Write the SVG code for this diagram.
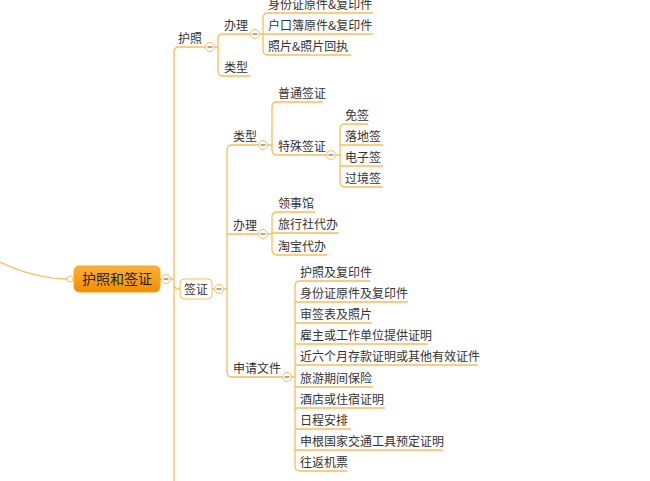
<svg xmlns="http://www.w3.org/2000/svg" width="650" height="481" viewBox="0 0 650 481">
<defs>
<linearGradient id="g" x1="0" y1="0" x2="0" y2="1"><stop offset="0" stop-color="#fbb13c"/><stop offset="1" stop-color="#f28c00"/></linearGradient>
<g id="m"><circle r="4.5" fill="#fff" stroke="#f8bd5c"/><line x1="-2.5" x2="2.5" stroke="#555" stroke-width="1"/></g>
</defs>
<style>
text{font-family:"Noto Sans CJK SC","Liberation Sans",sans-serif;font-size:12px;fill:#333}
.l{fill:none;stroke:#f8bd5c;stroke-width:1.3}
</style>
<rect width="650" height="481" fill="#fff"/>
<g id="connectors" class="l">
<path d="M0,262 Q35,279 70,279"/>
<path d="M160,279 H174 M174,481 V52 Q174,47 179,47 H205 M174,284 Q174,289 179,289 H180"/>
<path d="M205,47 H218 M223,34 Q218,34 218,39 V71 Q218,76 223,76 H250 M223,34 H250"/>
<path d="M250,34 H263 M268,13 Q263,13 263,18 V50 Q263,55 268,55 H351 M268,13 H373 M263,34 H373"/>
<path d="M212,289 H227 M232,145 Q227,145 227,150 V372 Q227,377 232,377 H280 M227,234 H257 M232,145 H257"/>
<path d="M257,145 H272 M277,102 Q272,102 272,107 V150 Q272,155 277,155 H323 M277,102 H323"/>
<path d="M323,155 H340 M345,124 Q340,124 340,129 V182 Q340,187 345,187 H383 M345,124 H368 M340,145 H383 M340,166 H383"/>
<path d="M257,234 H272 M277,212 Q272,212 272,217 V250 Q272,255 277,255 H327 M277,212 H315 M272,233 H339"/>
<path d="M280,377 H295 M300,281 Q295,281 295,286 V466 Q295,471 300,471 H347 M300,281 H370 M295,302 H408 M295,323 H372 M295,344 H428 M295,365 H478 M295,387 H373 M295,408 H385 M295,429 H351 M295,450 H443"/>
</g>
<circle cx="70" cy="279" r="3" fill="#fff" stroke="#f8bd5c"/>
<g id="root"><rect x="74" y="266" width="86" height="26" rx="5" fill="url(#g)" stroke="#f5a623"/><text x="117" y="284" text-anchor="middle" style="font-size:14px;fill:#222">护照和签证</text><use href="#m" x="166" y="279"/></g>
<g id="huzhao"><text x="178" y="43">护照</text><use href="#m" x="210" y="47"/></g>
<g id="hz-banli"><text x="224" y="30">办理</text><use href="#m" x="255" y="34"/></g>
<g id="hz-leixing"><text x="224" y="72">类型</text></g>
<g id="hz-items"><text x="268" y="9">身份证原件&amp;复印件</text><text x="268" y="30">户口簿原件&amp;复印件</text><text x="268" y="51">照片&amp;照片回执</text></g>
<g id="qianzheng"><rect x="180" y="279" width="32" height="20" rx="4" fill="#fff" stroke="#f8bd5c"/><text x="184" y="294">签证</text><use href="#m" x="219" y="289"/></g>
<g id="qz-leixing"><text x="233" y="141">类型</text><use href="#m" x="263" y="145"/></g>
<g id="putong"><text x="278" y="98">普通签证</text></g>
<g id="teshu"><text x="278" y="151">特殊签证</text><use href="#m" x="331" y="155"/></g>
<g id="teshu-items"><text x="345" y="120">免签</text><text x="345" y="141">落地签</text><text x="345" y="162">电子签</text><text x="345" y="183">过境签</text></g>
<g id="qz-banli"><text x="233" y="230">办理</text><use href="#m" x="263" y="234"/></g>
<g id="banli-items"><text x="278" y="208">领事馆</text><text x="278" y="229">旅行社代办</text><text x="278" y="251">淘宝代办</text></g>
<g id="shenqing"><text x="233" y="373">申请文件</text><use href="#m" x="287" y="377"/></g>
<g id="docs">
<text x="300" y="277">护照及复印件</text><text x="300" y="298">身份证原件及复印件</text><text x="300" y="319">审签表及照片</text><text x="300" y="340">雇主或工作单位提供证明</text><text x="300" y="361">近六个月存款证明或其他有效证件</text><text x="300" y="383">旅游期间保险</text><text x="300" y="404">酒店或住宿证明</text><text x="300" y="425">日程安排</text><text x="300" y="446">申根国家交通工具预定证明</text><text x="300" y="467">往返机票</text>
</g>
</svg>
